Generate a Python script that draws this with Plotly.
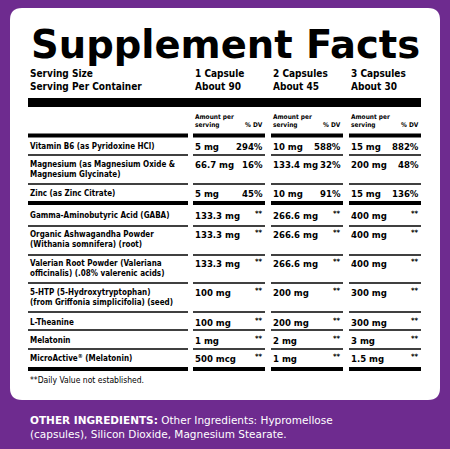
import plotly.graph_objects as go

# label data
nutrients = ["Vitamin B6 (as Pyridoxine HCl)",
             "Magnesium (as Magnesium Oxide &<br>Magnesium Glycinate)",
             "Zinc (as Zinc Citrate)",
             "Gamma-Aminobutyric Acid (GABA)",
             "Organic Ashwagandha Powder<br>(Withania somnifera) (root)",
             "Valerian Root Powder (Valeriana<br>officinalis) (.08% valerenic acids)",
             "5-HTP (5-Hydroxytryptophan)<br>(from Griffonia simplicifolia) (seed)",
             "L-Theanine", "Melatonin", "MicroActive<sup>®</sup> (Melatonin)"]
amount_1 = ["5 mg", "66.7 mg", "5 mg", "133.3 mg", "133.3 mg", "133.3 mg", "100 mg", "100 mg", "1 mg", "500 mcg"]
amount_2 = ["10 mg", "133.4 mg", "10 mg", "266.6 mg", "266.6 mg", "266.6 mg", "200 mg", "200 mg", "2 mg", "1 mg"]
amount_3 = ["15 mg", "200 mg", "15 mg", "400 mg", "400 mg", "400 mg", "300 mg", "300 mg", "3 mg", "1.5 mg"]
dv_1 = ["294%", "16%", "45%", "**", "**", "**", "**", "**", "**", "**"]
dv_2 = ["588%", "32%", "91%", "**", "**", "**", "**", "**", "**", "**"]
dv_3 = ["882%", "48%", "136%", "**", "**", "**", "**", "**", "**", "**"]
servings = ["1 Capsule<br>About 90", "2 Capsules<br>About 45", "3 Capsules<br>About 30"]

# layout (pixel space)
row_y = [146, 164, 193, 215, 234, 263, 292, 322, 340, 358]
line_y = [155, 184, 203, 226, 255, 283, 312, 330, 349, 369]
thick = {2, 9}
col_x = [(193, 265), (271, 343), (349, 421)]
F = "DejaVu Sans Condensed"
BG = "#6e2b8f"

fig = go.Figure()
shapes = []
ann = []

def seg(y, w):
    for x0, x1 in [(28, 188)] + col_x:
        shapes.append(dict(type="line", x0=x0, x1=x1, y0=y, y1=y, line=dict(color="black", width=w)))

def txt(x, y, t, size=10, anchor="left", bold=True, font=F, color="black"):
    ann.append(dict(x=x, y=y, text=f"<b>{t}</b>" if bold else t, showarrow=False, xanchor=anchor,
                    yanchor="middle", align="left", font=dict(family=font, size=size, color=color)))

# card
shapes.append(dict(type="path", path="M 22 8 L 428 8 Q 440 8 440 20 L 440 388 Q 440 400 428 400 "
                   "L 22 400 Q 10 400 10 388 L 10 20 Q 10 8 22 8 Z",
                   fillcolor="white", line=dict(width=0), layer="below"))

txt(225, 44, "Supplement Facts", size=38.5, anchor="center", font="DejaVu Sans")
txt(28, 80, "Serving Size<br>Serving Per Container", size=10)
for (x0, x1), s in zip(col_x, servings):
    txt(x0, 80, s, size=10)
    txt(x0, 121, "Amount per<br>serving", size=6.5)
    txt(x1, 125, "% DV", size=6.5, anchor="right")
shapes.append(dict(type="rect", x0=28, x1=421, y0=98, y1=107, fillcolor="black", line=dict(width=0)))
seg(135.5, 4)

for i, name in enumerate(nutrients):
    two = "<br>" in name
    y = row_y[i]
    txt(28, y + (5.5 if two else 0), name, size=8)
    for (x0, x1), a, d in zip(col_x, [amount_1[i], amount_2[i], amount_3[i]], [dv_1[i], dv_2[i], dv_3[i]]):
        txt(x0, y, a, size=9.5)
        txt(x1, y - (2 if d == "**" else 0), d, size=7.5 if d == "**" else 9.5, anchor="right")
    seg(line_y[i], 4 if i in thick else 1.5)

txt(28, 380, "**Daily Value not established.", size=8.5, bold=False)
ann.append(dict(x=28, y=427, xanchor="left", yanchor="middle", showarrow=False, align="left",
                text="<b>OTHER INGREDIENTS:</b> Other Ingredients: Hypromellose<br>(capsules), Silicon Dioxide, Magnesium Stearate.",
                font=dict(family="DejaVu Sans", size=10.5, color="white")))

fig.update_layout(width=450, height=449, margin=dict(l=0, r=0, t=0, b=0),
                  paper_bgcolor=BG, plot_bgcolor=BG, shapes=shapes, annotations=ann,
                  xaxis=dict(range=[0, 450], visible=False, fixedrange=True),
                  yaxis=dict(range=[449, 0], visible=False, fixedrange=True), showlegend=False)
fig.write_html("out.html", config={"displayModeBar": False},
               post_script=f"document.body.style.margin='0';document.body.style.background='{BG}';"
                           "document.body.style.overflow='hidden';")
